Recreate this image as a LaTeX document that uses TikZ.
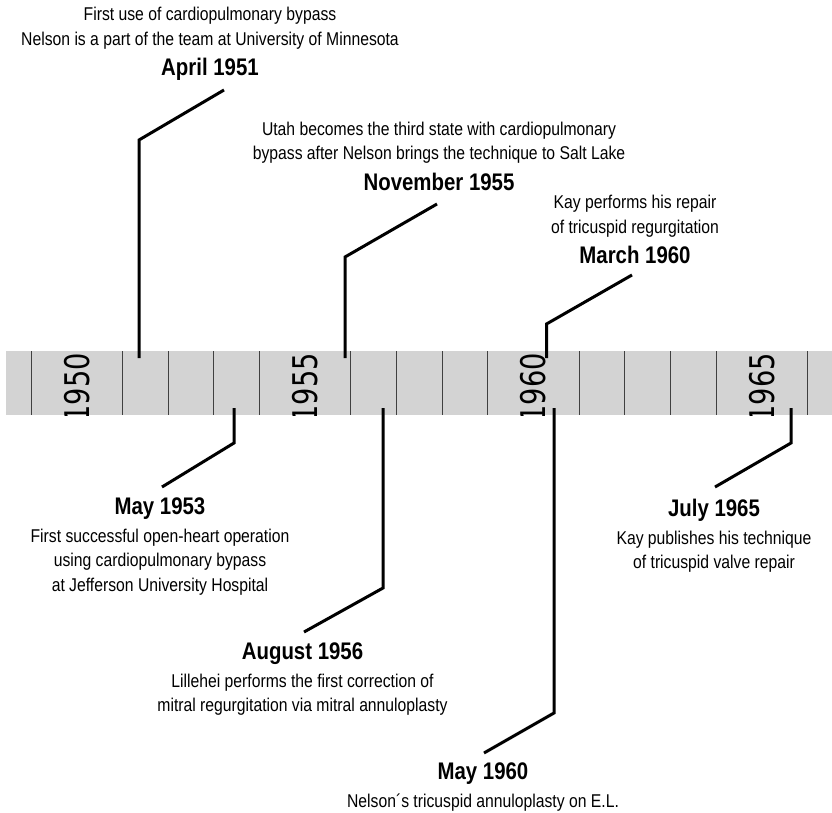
\documentclass[tikz,border=0pt]{standalone}
\usepackage{fontspec}
\setmainfont{Liberation Sans}[FakeStretch=0.85]
\newfontfamily\yearfont{DejaVu Sans}[FakeStretch=0.8]
\newcommand\when[1]{{\fontsize{24}{24}\selectfont\bfseries #1}}

\begin{document}
\begin{tikzpicture}[x=1pt, y=-1pt,
    event/.style = {align = center, inner sep = 0pt, anchor = north,
                    font = \fontsize{18.5}{24.5}\selectfont},
    stem/.style  = {line width = 3pt},
    tick/.style  = {line width = 1pt, black!75},
    year/.style  = {rotate = 90, anchor = east, inner sep = 0pt,
                    font = \yearfont\fontsize{34}{34}\selectfont}]
  \useasboundingbox (0,0) rectangle (832,813);

  % the bar
  \fill[fill = {rgb,255:red,211;green,211;blue,211}] (6,351) rectangle (832,415);
  \foreach \y in {1949,1951,1952,1953,1954,1956,1957,1958,1959,1961,1962,1963,1964,1966,1967}
    \draw[tick] ({77+45.65*(\y-1950)},351) -- ++(0,64);
  \begin{scope}
    \clip (6,351) rectangle (832,415);
    \foreach \y in {1950,1955,1960,1965}
      \node[year] (y\y) at ({77+45.65*(\y-1950)},353) {\y};
  \end{scope}

  % events above
  \node[event] (apr51) at (210,7)     {First use of cardiopulmonary bypass\\
                                        Nelson is a part of the team at University of Minnesota\\[6pt]
                                        \when{April 1951}};
  \node[event] (nov55) at (439,121.5) {Utah becomes the third state with cardiopulmonary\\
                                        bypass after Nelson brings the technique to Salt Lake\\[6pt]
                                        \when{November 1955}};
  \node[event] (mar60) at (635,195)   {Kay performs his repair\\
                                        of tricuspid regurgitation\\[6pt]
                                        \when{March 1960}};

  % events below
  \node[event] (may53) at (160,498)   {\when{May 1953}\\[3pt]
                                        First successful open-heart operation\\
                                        using cardiopulmonary bypass\\
                                        at Jefferson University Hospital};
  \node[event] (aug56) at (302.5,643) {\when{August 1956}\\[3pt]
                                        Lillehei performs the first correction of\\
                                        mitral regurgitation via mitral annuloplasty};
  \node[event] (may60) at (483,763)   {\when{May 1960}\\[3pt]
                                        Nelson´s tricuspid annuloplasty on E.L.};
  \node[event] (jul65) at (714,499)   {\when{July 1965}\\[3pt]
                                        Kay publishes his technique\\
                                        of tricuspid valve repair};

  % stems
  \coordinate (t51) at (139,358);   \coordinate (k51) at (139,140);   \coordinate (e51) at (224,90);
  \coordinate (t55) at (345,358);   \coordinate (k55) at (345,257);   \coordinate (e55) at (437,204);
  \coordinate (t60) at (546.5,358); \coordinate (k60) at (546.5,324); \coordinate (e60) at (632,275);
  \coordinate (t53) at (234,408);   \coordinate (k53) at (234,443);   \coordinate (e53) at (162,487);
  \coordinate (t56) at (383,408);   \coordinate (k56) at (383,588);   \coordinate (e56) at (304,632);
  \coordinate (t5x) at (554,408);   \coordinate (k5x) at (554,713);   \coordinate (e5x) at (484,753);
  \coordinate (t65) at (791,408);   \coordinate (k65) at (791,443);   \coordinate (e65) at (715,487);
  \foreach \s in {51,55,60,53,56,5x,65}
    \draw[stem] (t\s) -- (k\s) -- (e\s);
\end{tikzpicture}
\end{document}
